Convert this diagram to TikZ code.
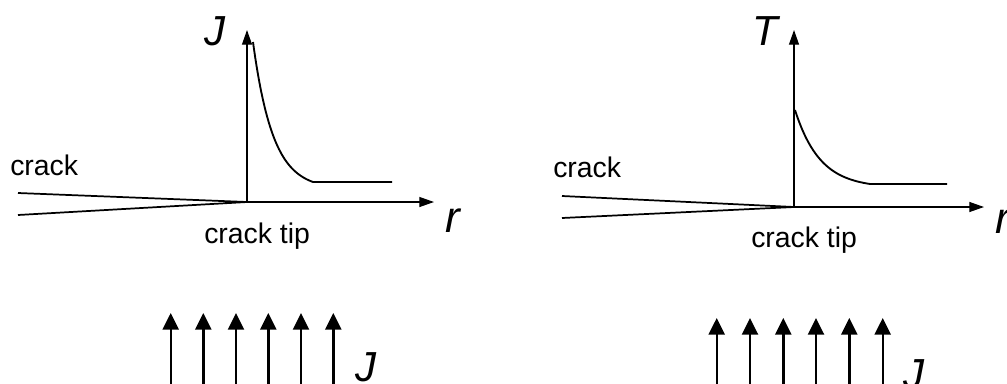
\documentclass[tikz,border=0pt]{standalone}
\usepackage{fontspec}
\setmainfont{Liberation Sans}
\usetikzlibrary{arrows.meta}
\begin{document}
\begin{tikzpicture}[x=0.75pt,y=-0.75pt,
  axis/.style={line width=0.9pt,-{Triangle[length=11pt,width=7.5pt]}},
  curve/.style={line width=1.4pt},
  cracklip/.style={line width=1.3pt},
  load/.style={line width=1.8pt,-{Triangle[length=12.5pt,width=12pt]}},
  lbl/.style={inner sep=0pt,font=\fontsize{21.3}{24}\selectfont},
  sym/.style={inner sep=0pt,font=\fontsize{31.5}{36}\selectfont\itshape},
  rsym/.style={inner sep=0pt,font=\fontsize{33}{38}\selectfont\itshape}]
\useasboundingbox (0,0) rectangle (1007,383);

% ---- left panel: J versus r ----
\coordinate (oL) at (247,202);
\coordinate (yL) at (247,30);
\coordinate (xL) at (434,202);
\coordinate (cuL) at (18,193);
\coordinate (clL) at (18,215);
\draw[axis] (oL) -- (yL);
\draw[axis] (oL) -- (xL);
\draw[cracklip] (cuL) -- (oL) -- (clL);
\draw[curve] plot[domain=0:60,samples=80]
  ({253+\x},{182-140*(exp(-\x/20)-exp(-3))/(1-exp(-3))}) -- (392,182);
\node[sym,anchor=base] (JL) at (215,45) {J};
\node[rsym,anchor=base] (rL) at (453,232) {r};
\node[lbl,anchor=base west] (crL) at (10,175) {crack};
\node[lbl,anchor=base west] (tipL) at (204,243) {crack tip};

% ---- right panel: T versus r ----
\coordinate (oR) at (794,207);
\coordinate (yR) at (794,30);
\coordinate (xR) at (984,207);
\coordinate (cuR) at (562,196);
\coordinate (clR) at (562,218);
\draw[axis] (oR) -- (yR);
\draw[axis] (oR) -- (xR);
\draw[cracklip] (cuR) -- (oR) -- (clR);
\draw[curve] plot[domain=0:75,samples=80]
  ({795+\x},{184-74*(exp(-\x/25)-exp(-3))/(1-exp(-3))}) -- (947,184);
\node[sym,anchor=base] (TR) at (765,45) {T};
\node[rsym,anchor=base] (rR) at (1003,233) {r};
\node[lbl,anchor=base west] (crR) at (553,177) {crack};
\node[lbl,anchor=base west] (tipR) at (751,247) {crack tip};

% ---- applied loading arrows ----
\foreach \i/\xx in {1/170.7,2/203.3,3/236,4/268.3,5/301,6/333.3}{
  \coordinate (bL\i) at (\xx,390);
  \coordinate (tL\i) at (\xx,313);
  \draw[load] (bL\i) -- (tL\i);
}
\node[sym,anchor=base] (JbL) at (366,381) {J};
\foreach \i/\xx in {1/716.7,2/750,3/783.3,4/816,5/849.3,6/882.7}{
  \coordinate (bR\i) at (\xx,390);
  \coordinate (tR\i) at (\xx,318);
  \draw[load] (bR\i) -- (tR\i);
}
\node[sym,anchor=base] (JbR) at (914,388) {J};
\end{tikzpicture}
\end{document}
